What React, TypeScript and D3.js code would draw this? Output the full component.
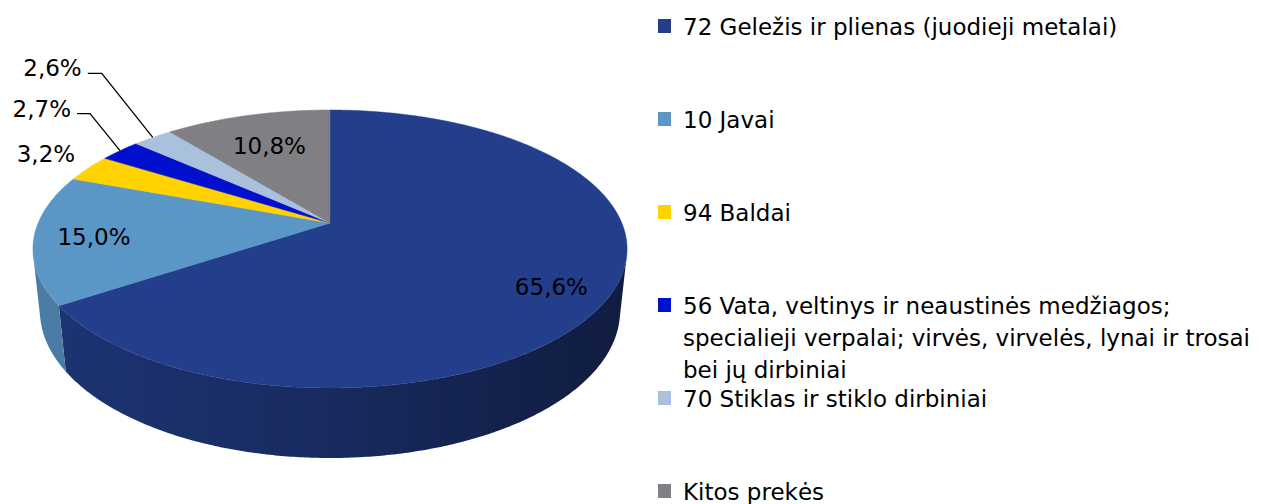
import React from "react";
import * as d3 from "d3";

// ---------- data ----------
const categories = [
  "72 Geležis ir plienas (juodieji metalai)",
  "10 Javai",
  "94 Baldai",
  "56 Vata, veltinys ir neaustinės medžiagos; specialieji verpalai; virvės, virvelės, lynai ir trosai bei jų dirbiniai",
  "70 Stiklas ir stiklo dirbiniai",
  "Kitos prekės",
];
const values = [65.6, 15.0, 3.2, 2.7, 2.6, 10.8];
const legendLines = [
  ["72 Geležis ir plienas (juodieji metalai)"],
  ["10 Javai"],
  ["94 Baldai"],
  [
    "56 Vata, veltinys ir neaustinės medžiagos;",
    "specialieji verpalai; virvės, virvelės, lynai ir trosai",
    "bei jų dirbiniai",
  ],
  ["70 Stiklas ir stiklo dirbiniai"],
  ["Kitos prekės"],
];

// ---------- style ----------
const colors = ["#233E8B", "#5A96C6", "#FFD200", "#0010CC", "#A9C1DC", "#7F7F84"];
const FONT = "'DejaVu Sans', Verdana, sans-serif";
const FS = 23;
// perspective camera
const CAM = { cx: 330, cy: 223, f: 1385.6, D: 4.748, sinPhi: 0.4596, cosPhi: 0.888, H: 0.2408 };
// label placement (style): inside labels at radius fraction (+ small vertical nudge), outside labels offsets from rim
const inside: ({ r: number; dy: number } | null)[] = [
  { r: 0.8, dy: 9 },
  { r: 0.8, dy: 1 },
  null,
  null,
  null,
  { r: 0.7, dy: 2 },
];
const outside: Record<number, { bend: [number, number]; tick: number; leader: boolean }> = {
  2: { bend: [-7, -9], tick: 0, leader: false },
  3: { bend: [-30, -37], tick: 13, leader: true },
  4: { bend: [-51, -64], tick: 14, leader: true },
};

function project(u: number, v: number, y: number): [number, number] {
  const { cx, cy, f, D, sinPhi, cosPhi } = CAM;
  const yc = v * sinPhi + y * cosPhi;
  const zc = D + v * cosPhi - y * sinPhi;
  return [cx + (f * u) / zc, cy - (f * yc) / zc];
}
const rim = (a: number, r: number, y: number) => project(r * Math.sin(a), r * Math.cos(a), y);

function arcPts(a0: number, a1: number, r: number, y: number) {
  const n = Math.max(2, Math.ceil(((a1 - a0) * 180) / Math.PI / 0.5));
  const pts: [number, number][] = [];
  for (let i = 0; i <= n; i++) pts.push(rim(a0 + ((a1 - a0) * i) / n, r, y));
  return pts;
}

const fmt = (v: number) => d3.format(".1f")(v).replace(".", ",") + "%";

export default function App() {
  const W = 1262, Hh = 504;
  const pie = d3.pie<number>().sort(null).value((d) => d).startAngle(0).endAngle(2 * Math.PI);
  const arcs = pie(values);
  const line = d3.line<[number, number]>().x((d) => d[0]).y((d) => d[1]);

  const sil = Math.acos(1 / (CAM.D * CAM.cosPhi));
  const s0 = Math.PI - sil, s1 = Math.PI + sil;

  const walls = arcs.map((a, i) => {
    const a0 = Math.max(a.startAngle, s0), a1 = Math.min(a.endAngle, s1);
    if (a1 <= a0) return null;
    const top = arcPts(a0, a1, 1, 0);
    const bot = arcPts(a0, a1, 1, -CAM.H).reverse();
    return <path key={"w" + i} d={line([...top, ...bot])! + "Z"} fill={`url(#g${i})`} />;
  });

  const tops = arcs.map((a, i) => {
    const pts: [number, number][] = [project(0, 0, 0), ...arcPts(a.startAngle, a.endAngle, 1, 0)];
    return <path key={"t" + i} d={line(pts)! + "Z"} fill={colors[i]} stroke={colors[i]} strokeWidth={0.5} />;
  });

  const labels = arcs.map((a, i) => {
    const mid = (a.startAngle + a.endAngle) / 2;
    const ins = inside[i];
    if (ins != null) {
      const [x, y] = rim(mid, ins.r, 0);
      return (
        <text key={"l" + i} x={x} y={y + ins.dy} textAnchor="middle" dominantBaseline="central" fontFamily={FONT} fontSize={FS} fill="#000">
          {fmt(values[i])}
        </text>
      );
    }
    const o = outside[i];
    const [ex, ey] = rim(mid, 1, 0);
    const bx = ex + o.bend[0], by = ey + o.bend[1];
    const tx = bx - o.tick;
    return (
      <g key={"l" + i}>
        {o.leader && (
          <path d={line([[ex, ey], [bx, by], [tx, by]])!} fill="none" stroke="#000" strokeWidth={1.3} />
        )}
        <text x={tx - 6} y={by + 3} textAnchor="end" fontFamily={FONT} fontSize={FS} fill="#000">
          {fmt(values[i])}
        </text>
      </g>
    );
  });

  const legend = categories.map((c, i) => {
    const base = 35 + 93 * i;
    return (
      <g key={"lg" + i}>
        <rect x={658} y={base - 16} width={13} height={14} fill={colors[i]} />
        <text fontFamily={FONT} fontSize={FS} fill="#000">
          {legendLines[i].map((t, j) => (
            <tspan key={j} x={683} y={base + j * 32}>{t}</tspan>
          ))}
        </text>
      </g>
    );
  });

  return (
    <svg width={W} height={Hh} style={{ position: "absolute", left: 0, top: 0, background: "#fff" }}>
      <defs>
        {colors.map((c, i) => {
          const col = d3.color(c)!;
          return (
            <linearGradient key={i} id={`g${i}`} gradientUnits="userSpaceOnUse" x1={35} x2={628} y1={0} y2={0}>
              <stop offset="0" stopColor={col.darker(0.5).formatHex()} />
              <stop offset="0.5" stopColor={col.darker(1.1).formatHex()} />
              <stop offset="1" stopColor={col.darker(2.2).formatHex()} />
            </linearGradient>
          );
        })}
      </defs>
      {walls}
      {tops}
      {labels}
      {legend}
    </svg>
  );
}
